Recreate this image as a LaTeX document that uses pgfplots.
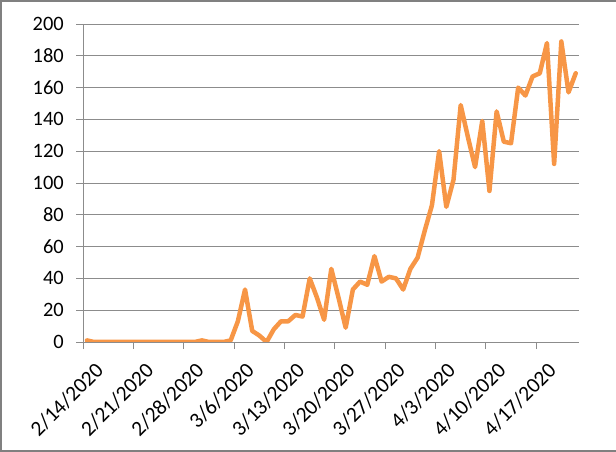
\documentclass[border=0pt]{standalone}
\usepackage{fontspec}
\setmainfont{Carlito}
\usepackage{pgfplots}
\pgfplotsset{compat=1.18}
\definecolor{lineor}{HTML}{F79646}
\definecolor{gridg}{HTML}{8C8C8C}
\definecolor{bordg}{HTML}{808080}
\begin{document}
\begin{tikzpicture}
\useasboundingbox (0,0) rectangle (616bp,452bp);
\draw[bordg, line width=2.5bp] (616bp,451bp) -- (1bp,451bp) -- (1bp,1bp) -- (616bp,1bp);
\begin{axis}[
  at={(83.3bp,110bp)}, anchor=south west,
  scale only axis,
  width=496bp, height=318bp,
  xmin=-0.5, xmax=68.5,
  ymin=0, ymax=200,
  ytick={0,20,...,200},
  xtick={-0.5,6.5,13.5,20.5,27.5,34.5,41.5,48.5,55.5,62.5},
  xticklabels={2/14/2020,2/21/2020,2/28/2020,3/6/2020,3/13/2020,3/20/2020,3/27/2020,4/3/2020,4/10/2020,4/17/2020},
  axis x line*=bottom,
  axis y line*=left,
  axis line style={gridg, line width=0.9bp, -},
  tick style={gridg, line width=0.9bp},
  major tick length=7bp,
  tick align=outside,
  ymajorgrids,
  grid style={gridg, line width=0.9bp},
  tick label style={font=\fontsize{20.5}{24}\selectfont, text=black},
  /pgf/number format/assume math mode=true,
  yticklabel style={xshift=-9bp},
  xticklabel style={font=\fontsize{21.5}{25}\selectfont, rotate=45, anchor=north east, inner sep=1bp, xshift=0bp, yshift=-15bp},
]
\addplot[lineor, line width=4.5bp, line join=round, line cap=round] coordinates {
(0,1)(1,0)(2,0)(3,0)(4,0)(5,0)(6,0)(7,0)(8,0)(9,0)(10,0)(11,0)(12,0)(13,0)(14,0)(15,0)
(16,1)(17,0)(18,0)(19,0)(20,1)(21,13)(22,33)(23,7)(24,4)(25,0)(26,8)(27,13)(28,13)(29,17)
(30,16)(31,40)(32,28)(33,14)(34,46)(35,28)(36,9)(37,33)(38,38)(39,36)(40,54)(41,38)(42,41)
(43,40)(44,33)(45,46)(46,53)(47,70)(48,86)(49,120)(50,85)(51,102)(52,149)(53,129)(54,110)
(55,139)(56,95)(57,145)(58,126)(59,125)(60,160)(61,155)(62,167)(63,169)(64,188)(65,112)
(66,189)(67,157)(68,169)
};
\end{axis}
\end{tikzpicture}
\end{document}
